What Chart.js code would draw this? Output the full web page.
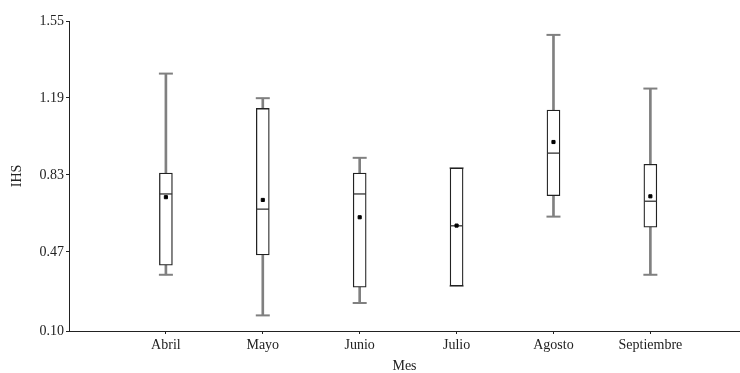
<!DOCTYPE html>
<html>
<head>
<meta charset="utf-8">
<script src="https://cdn.jsdelivr.net/npm/chart.js@4"></script>
<style>
  html, body { margin: 0; padding: 0; background: #fff; }
  #wrap { width: 740px; height: 373px; }
</style>
</head>
<body>
<div id="wrap"><canvas id="boxChart" width="740" height="373"></canvas></div>
<script>
// values
const months = ['Abril', 'Mayo', 'Junio', 'Julio', 'Agosto', 'Septiembre'];
const whiskerLow  = [0.363, 0.173, 0.231, 0.311, 0.635, 0.363];
const quart1      = [0.408, 0.456, 0.305, 0.311, 0.733, 0.586];
const medians     = [0.741, 0.670, 0.741, 0.592, 0.932, 0.707];
const means       = [0.726, 0.713, 0.632, 0.593, 0.984, 0.730];
const quart3      = [0.839, 1.141, 0.839, 0.862, 1.133, 0.880];
const whiskerHigh = [1.304, 1.189, 0.910, 0.862, 1.485, 1.234];
const yTicks = [0.10, 0.47, 0.83, 1.19, 1.55];

const font = { family: '"Liberation Serif", "Times New Roman", serif', size: 14 };
const ink = '#222';
const grey = '#808080';

const pos = months.map((m, i) => i + 1);

new Chart(document.getElementById('boxChart'), {
    type: 'bar',
    data: {
        datasets: [
            {
                label: 'caja',
                data: pos.map((x, i) => ({ x: x, y: [quart1[i], quart3[i]] })),
                backgroundColor: '#fff',
                borderColor: ink,
                borderWidth: 1.3,
                borderSkipped: false,
                barThickness: 13,
                grouped: false,
                order: 2
            },
            {
                label: 'bigote',
                data: pos.map((x, i) => ({ x: x, y: [whiskerLow[i], whiskerHigh[i]] })),
                backgroundColor: grey,
                borderWidth: 0,
                barThickness: 2,
                grouped: false,
                order: 4
            },
            {
                type: 'line',
                label: 'extremos',
                data: pos.flatMap((x, i) => [{ x: x, y: whiskerLow[i] }, { x: x, y: whiskerHigh[i] }]),
                showLine: false,
                pointStyle: 'line',
                pointRadius: 7,
                pointBorderWidth: 2,
                pointBorderColor: grey,
                order: 3
            },
            {
                type: 'line',
                label: 'mediana',
                data: pos.map((x, i) => ({ x: x, y: medians[i] })),
                showLine: false,
                pointStyle: 'line',
                pointRadius: 6.2,
                pointBorderWidth: 1.3,
                pointBorderColor: '#333',
                order: 1
            },
            {
                type: 'line',
                label: 'media',
                data: pos.map((x, i) => ({ x: x, y: means[i] })),
                showLine: false,
                pointStyle: 'rect',
                pointRadius: 2.2,
                pointBorderWidth: 1,
                pointBorderColor: '#000',
                pointBackgroundColor: '#000',
                order: 0
            }
        ]
    },
    options: {
        responsive: false,
        animation: false,
        devicePixelRatio: 1,
        layout: { autoPadding: false, padding: { top: 21, right: 0, bottom: 0, left: 0 } },
        plugins: {
            legend: { display: false },
            tooltip: { enabled: false }
        },
        scales: {
            x: {
                type: 'linear',
                offset: false,
                min: 0,
                max: 6.925,
                afterBuildTicks: (scale) => { scale.ticks = pos.map(v => ({ value: v })); },
                afterFit: (scale) => {
                    scale.height = 42;
                    scale.paddingLeft = 0;
                    scale.paddingRight = 0;
                },
                ticks: {
                    autoSkip: false,
                    maxRotation: 0,
                    padding: 3,
                    color: ink,
                    font: font,
                    callback: (v) => months[v - 1]
                },
                grid: { offset: false, drawOnChartArea: false, drawTicks: true, tickLength: 3, color: ink },
                border: { display: true, color: ink, width: 1 },
                title: { display: true, text: 'Mes', color: ink, font: Object.assign({ lineHeight: 1 }, font), padding: 0 }
            },
            y: {
                type: 'linear',
                min: 0.10,
                max: 1.55,
                afterBuildTicks: (scale) => { scale.ticks = yTicks.map(v => ({ value: v })); },
                afterFit: (scale) => {
                    scale.width = 69;
                    scale.paddingTop = 0;
                    scale.paddingBottom = 0;
                },
                ticks: {
                    padding: 2,
                    color: ink,
                    font: font,
                    callback: (v) => Number(v).toFixed(2)
                },
                grid: { drawOnChartArea: false, drawTicks: true, tickLength: 3, color: ink },
                border: { display: true, color: ink, width: 1 },
                title: { display: true, text: 'IHS', color: ink, font: Object.assign({ lineHeight: 1 }, font), padding: { top: 10, bottom: 0 } }
            }
        }
    }
});
</script>
</body>
</html>
